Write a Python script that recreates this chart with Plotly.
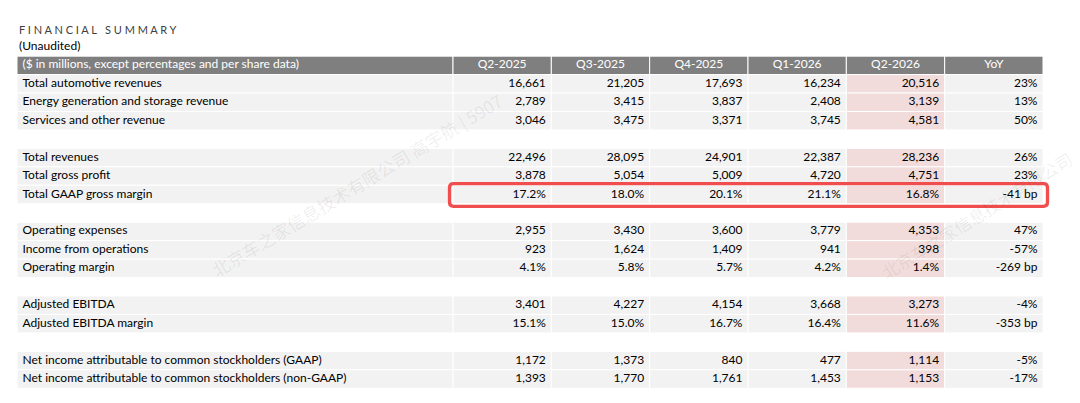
import plotly.graph_objects as go

# ---- data ----
row_labels = [
    "Total automotive revenues",
    "Energy generation and storage revenue",
    "Services and other revenue",
    "",
    "Total revenues",
    "Total gross profit",
    "Total GAAP gross margin",
    "",
    "Operating expenses",
    "Income from operations",
    "Operating margin",
    "",
    "Adjusted EBITDA",
    "Adjusted EBITDA margin",
    "",
    "Net income attributable to common stockholders (GAAP)",
    "Net income attributable to common stockholders (non-GAAP)",
]
# "usd" rows are $ millions, "pct" rows are margins, None is a spacer row
row_kind = ["usd", "usd", "usd", None, "usd", "usd", "pct", None,
            "usd", "usd", "pct", None, "usd", "pct", None, "usd", "usd"]

header_label = "($ in millions, except percentages and per share data)"
quarters = ["Q2-2025", "Q3-2025", "Q4-2025", "Q1-2026", "Q2-2026"]
q2_2025 = [16661, 2789, 3046, None, 22496, 3878, 17.2, None, 2955, 923, 4.1, None, 3401, 15.1, None, 1172, 1393]
q3_2025 = [21205, 3415, 3475, None, 28095, 5054, 18.0, None, 3430, 1624, 5.8, None, 4227, 15.0, None, 1373, 1770]
q4_2025 = [17693, 3837, 3371, None, 24901, 5009, 20.1, None, 3600, 1409, 5.7, None, 4154, 16.7, None, 840, 1761]
q1_2026 = [16234, 2408, 3745, None, 22387, 4720, 21.1, None, 3779, 941, 4.2, None, 3668, 16.4, None, 477, 1453]
q2_2026 = [20516, 3139, 4581, None, 28236, 4751, 16.8, None, 4353, 398, 1.4, None, 3273, 11.6, None, 1114, 1153]
# YoY: percent change for $ rows, basis points for margin rows
yoy = [23, 13, 50, None, 26, 23, -41, None, 47, -57, -269, None, -4, -353, None, -5, -17]

highlight_row = "Total GAAP gross margin"
highlight_col = "Q2-2026"

# ---- look ----
PAGE_W, PAGE_H = 1080, 403
BODY_MARGIN = 8                      # browser default margin round the plot div
W, H = PAGE_W - BODY_MARGIN, PAGE_H - BODY_MARGIN
TABLE_LEFT, TABLE_RIGHT = 17, 1043
LABEL_W = 436
ROW0_CENTER = 83.8                   # page px of first body row centre
ROW_H = 18.45
PAD = 5.5
FONT = "Lato, 'Open Sans', Arial, sans-serif"

HEADER_GRAY = "#7f7f7f"
CELL_GRAY = "#f2f2f2"
PINK = "#f2dcdb"
RED = "#f04e4e"


def to_row(page_y):
    # page pixel -> row units on the y axis
    return (page_y - ROW0_CENTER) / ROW_H


def fmt(v, kind):
    if v is None:
        return ""
    if kind == "pct":
        return f"{v:.1f}%"
    return f"{v:,}"


def fmt_yoy(v, kind):
    if v is None:
        return ""
    return f"{v} bp" if kind == "pct" else f"{v}%"


col_titles = [header_label] + quarters + ["YoY"]
columns = [row_labels]
for col in [q2_2025, q3_2025, q4_2025, q1_2026, q2_2026]:
    columns.append([fmt(v, k) for v, k in zip(col, row_kind)])
columns.append([fmt_yoy(v, k) for v, k in zip(yoy, row_kind)])

n_data = len(col_titles) - 1
data_w = (TABLE_RIGHT - TABLE_LEFT - LABEL_W) / n_data
col_left = [TABLE_LEFT] + [TABLE_LEFT + LABEL_W + i * data_w for i in range(n_data)]
col_width = [LABEL_W] + [data_w] * n_data

body_rows = [i for i, k in enumerate(row_kind) if k is not None]

fig = go.Figure()

# cell backgrounds, one bar trace per column (header row sits at -1)
for ci, title in enumerate(col_titles):
    body_fill = PINK if title == highlight_col else CELL_GRAY
    ys = [-1] + body_rows
    fig.add_trace(go.Bar(
        y=ys,
        x=[col_width[ci]] * len(ys),
        base=[col_left[ci]] * len(ys),
        orientation="h",
        width=1,
        marker=dict(color=[HEADER_GRAY] + [body_fill] * len(body_rows),
                    line=dict(color="white", width=1)),
        hoverinfo="skip",
        showlegend=False,
    ))

# header text
fig.add_trace(go.Scatter(
    x=[col_left[0] + PAD], y=[-1], text=[col_titles[0]], mode="text",
    textposition="middle right", textfont=dict(family=FONT, size=12, color="white"),
    hoverinfo="skip", showlegend=False))
fig.add_trace(go.Scatter(
    x=[col_left[ci] + col_width[ci] / 2 for ci in range(1, len(col_titles))],
    y=[-1] * n_data, text=col_titles[1:], mode="text",
    textposition="middle center", textfont=dict(family=FONT, size=12, color="white"),
    hoverinfo="skip", showlegend=False))

# body text
for ci, col in enumerate(columns):
    if ci == 0:
        xs = [col_left[0] + PAD] * len(body_rows)
        pos = "middle right"
    else:
        xs = [col_left[ci] + col_width[ci] - PAD] * len(body_rows)
        pos = "middle left"
    fig.add_trace(go.Scatter(
        x=xs, y=body_rows, text=[col[i] for i in body_rows], mode="text",
        textposition=pos, textfont=dict(family=FONT, size=12, color="black"),
        hoverinfo="skip", showlegend=False))

# red rounded box around the highlighted row
hi = row_labels.index(highlight_row)
bx0, bx1 = col_left[1] - 3.5, TABLE_RIGHT + 4.5
by0 = hi - 0.5 - 1.7 / ROW_H
by1 = hi + 0.5 + 2.6 / ROW_H
rx, ry = 4, 4 / ROW_H
path = (f"M {bx0 + rx},{by0} L {bx1 - rx},{by0} Q {bx1},{by0} {bx1},{by0 + ry} "
        f"L {bx1},{by1 - ry} Q {bx1},{by1} {bx1 - rx},{by1} "
        f"L {bx0 + rx},{by1} Q {bx0},{by1} {bx0},{by1 - ry} "
        f"L {bx0},{by0 + ry} Q {bx0},{by0} {bx0 + rx},{by0} Z")
fig.add_shape(type="path", path=path, xref="x", yref="y",
              line=dict(color=RED, width=3.3))

# titles
fig.add_annotation(text=" ".join("FINANCIAL") + "   " + " ".join("SUMMARY"),
                   x=TABLE_LEFT, y=to_row(29.5), xref="x", yref="y",
                   xanchor="left", yanchor="middle", showarrow=False,
                   font=dict(family=FONT, size=11, color="#404040"))
fig.add_annotation(text="(Unaudited)",
                   x=TABLE_LEFT, y=to_row(45.5), xref="x", yref="y",
                   xanchor="left", yanchor="middle", showarrow=False,
                   font=dict(family=FONT, size=12, color="black"))

# faint watermark (the right copy only shows the part inside the page)
wm_color = "rgba(0,0,0,0.07)"
fig.add_annotation(text="北京车之家信息技术有限公司 高宇航 | 5907", x=356, y=to_row(185),
                   xref="x", yref="y", showarrow=False, textangle=-31,
                   font=dict(family="Noto Sans CJK SC", size=17.5, color=wm_color))
fig.add_annotation(text="北京车之家信息技术有限公司", x=976, y=to_row(215),
                   xref="x", yref="y", showarrow=False, textangle=-32,
                   font=dict(family="Noto Sans CJK SC", size=17, color=wm_color))

fig.update_layout(
    width=W, height=H,
    margin=dict(l=0, r=0, t=0, b=0),
    paper_bgcolor="white",
    plot_bgcolor="white",
    barmode="overlay",
    xaxis=dict(range=[BODY_MARGIN, PAGE_W], visible=False, fixedrange=True),
    yaxis=dict(range=[to_row(PAGE_H), to_row(BODY_MARGIN)], visible=False, fixedrange=True),
)

fig.write_html("out.html")
